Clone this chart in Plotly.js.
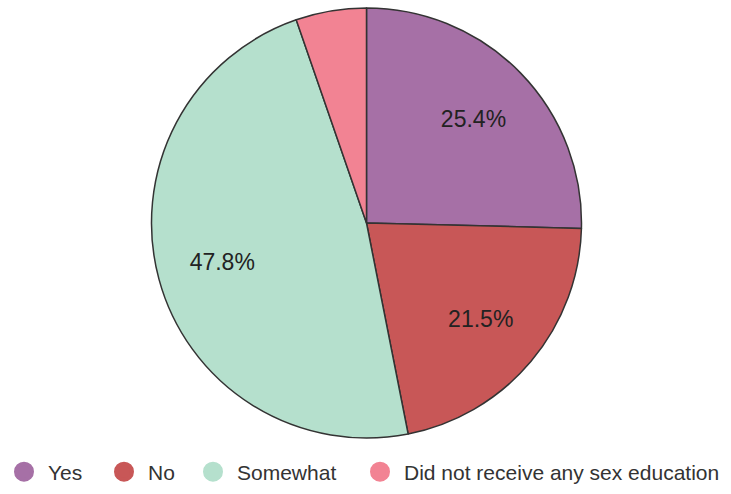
<!DOCTYPE html>
<html>
<head>
<meta charset="utf-8">
<script src="https://cdn.plot.ly/plotly-3.0.1.min.js"></script>
<style>html,body{margin:0;padding:0;background:#fff;}#chart{width:731px;height:494px;}</style>
</head>
<body>
<div id="chart"></div>
<script>
const categories = ["Yes", "No", "Somewhat", "Did not receive any sex education"];
const values = [25.4, 21.5, 47.8, 5.3];
const colors = ["#a670a6", "#c85757", "#b5e0cd", "#f28393"];
const labelTemplates = ["%{percent:.1%}", "%{percent:.1%}", "%{percent:.1%}", ""];

const FONT = "Liberation Sans, Arial, sans-serif";
const pieDomain = { x: [151/731, 582/731], y: [1 - 438/494, 1 - 8/494] };

const traces = [{
  type: "pie",
  labels: categories,
  values: values,
  sort: false,
  direction: "clockwise",
  rotation: 0,
  showlegend: false,
  marker: { colors: colors, line: { color: "#333333", width: 1.5 } },
  textinfo: "none",
  hoverinfo: "label+percent",
  domain: pieDomain
}, {
  // transparent ring used only to place the percentage labels
  type: "pie",
  labels: categories,
  values: values,
  sort: false,
  direction: "clockwise",
  rotation: 0,
  hole: 0.39,
  showlegend: false,
  marker: { colors: categories.map(() => "rgba(0,0,0,0)"), line: { width: 0 } },
  texttemplate: labelTemplates,
  textposition: "inside",
  insidetextorientation: "horizontal",
  textfont: { family: FONT, size: 23, color: "#222222" },
  hoverinfo: "skip",
  domain: pieDomain
}];

const legendCenters = [20, 120, 209, 376];
const layoutLegends = {};
categories.forEach((c, i) => {
  const key = i === 0 ? "legend" : "legend" + (i + 1);
  traces.push({
    type: "scatter", mode: "markers", x: [null], y: [null], name: c,
    legend: key, showlegend: true,
    marker: { color: colors[i], size: 16, symbol: "circle", line: { color: colors[i], width: 4 } },
    hoverinfo: "skip"
  });
  layoutLegends[key] = {
    x: (legendCenters[i] - 20) / 731, xanchor: "left",
    y: 1 - 472/494, yanchor: "middle",
    orientation: "h",
    itemwidth: 38,
    font: { family: FONT, size: 21, color: "#333333" },
    bgcolor: "rgba(0,0,0,0)", borderwidth: 0
  };
});

const layout = Object.assign({
  width: 731, height: 494,
  margin: { l: 0, r: 0, t: 0, b: 0 },
  paper_bgcolor: "#ffffff", plot_bgcolor: "#ffffff",
  xaxis: { visible: false }, yaxis: { visible: false },
  showlegend: true
}, layoutLegends);

Plotly.newPlot("chart", traces, layout, { displayModeBar: false, staticPlot: true });
</script>
</body>
</html>
